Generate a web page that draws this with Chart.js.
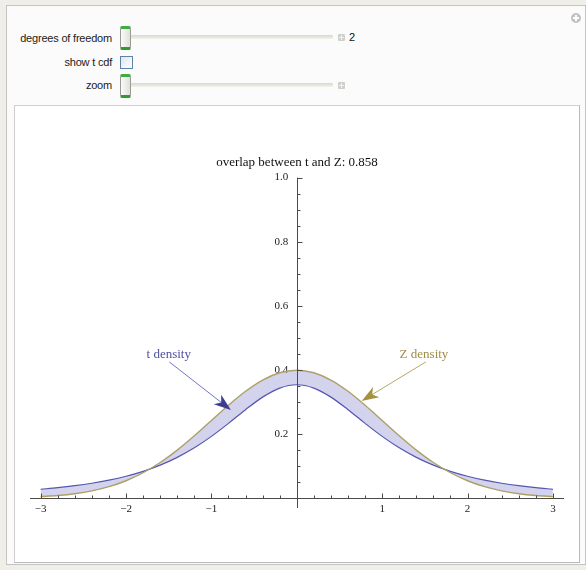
<!DOCTYPE html>
<html>
<head>
<meta charset="utf-8">
<script src="https://cdn.jsdelivr.net/npm/chart.js@4.4.0/dist/chart.umd.min.js"></script>
<style>
  html, body { margin: 0; padding: 0; }
  body {
    width: 586px; height: 570px; position: relative; overflow: hidden;
    background: #efeee9;
    font-family: "Liberation Sans", "DejaVu Sans", Arial, sans-serif;
  }
  #frame {
    position: absolute; left: 6px; top: 5px; width: 580px; height: 560px;
    box-sizing: border-box; border: 1px solid #c4c4c4; background: #fbfbfb;
  }
  #panel {
    position: absolute; left: 14px; top: 105px; width: 566px; height: 458px;
    box-sizing: border-box; background: #fff;
    border: 1px solid #cfcfcf; border-right-color: #b9b9b9; border-bottom-color: #b9b9b9;
  }
  .lbl {
    position: absolute; right: 474px; font-size: 11px; color: #222;
    white-space: nowrap; letter-spacing: -0.2px; line-height: 12px;
  }
  .track {
    position: absolute; left: 131px; width: 202px; height: 4px;
    background: linear-gradient(#d9d7ce, #f3f2ec); border-radius: 1px;
  }
  .thumb {
    position: absolute; left: 120px; width: 11px; height: 24px; box-sizing: border-box;
    border: 1px solid #9a9a96; border-top: 3px solid #3fae3f; border-bottom: 3px solid #2f9a2f;
    border-radius: 2px; background: linear-gradient(to right, #fbfbf9, #e0e0da);
  }
  .plus {
    position: absolute; left: 338px; width: 7px; height: 7px; background: #cfcfcb;
    border-radius: 1px;
  }
  .plus::before, .plus::after { content: ""; position: absolute; background: #f2f2f0; }
  .plus::before { left: 3px; top: 1px; width: 1px; height: 5px; }
  .plus::after { left: 1px; top: 3px; width: 5px; height: 1px; }
  #dfValue { position: absolute; left: 349px; top: 31px; font-size: 11px; color: #111; }
  #check {
    position: absolute; left: 120px; top: 56px; width: 13px; height: 13px; box-sizing: border-box;
    border: 1px solid #5f83a8; background: linear-gradient(135deg, #dfe6ee, #ffffff);
  }
  #corner {
    position: absolute; left: 571px; top: 13px; width: 10px; height: 10px; border-radius: 50%;
    background: #c2c2c2;
  }
  #corner::before, #corner::after { content: ""; position: absolute; background: #fff; }
  #corner::before { left: 4px; top: 2px; width: 2px; height: 6px; }
  #corner::after { left: 2px; top: 4px; width: 6px; height: 2px; }
  #chart { position: absolute; left: 0; top: 0; z-index: 2; pointer-events: none; }
</style>
</head>
<body>
<div id="frame"></div>
<div id="corner"></div>

<div class="lbl" style="top:32px">degrees of freedom</div>
<div class="track" style="top:35px"></div>
<div class="thumb" style="top:26px"></div>
<div class="plus" style="top:34px"></div>
<div id="dfValue">2</div>

<div class="lbl" style="top:56px">show t cdf</div>
<div id="check"></div>

<div class="lbl" style="top:79px">zoom</div>
<div class="track" style="top:83px"></div>
<div class="thumb" style="top:74px"></div>
<div class="plus" style="top:82px"></div>

<div id="panel"></div>
<canvas id="chart" width="586" height="570"></canvas>

<script>
const xValues = [-3.0, -2.8, -2.6, -2.4, -2.2, -2.0, -1.8, -1.6, -1.4, -1.2, -1.0, -0.8, -0.6, -0.4, -0.2, 0.0,
  0.2, 0.4, 0.6, 0.8, 1.0, 1.2, 1.4, 1.6, 1.8, 2.0, 2.2, 2.4, 2.6, 2.8, 3.0];

// Student t density, 2 degrees of freedom
const tDensity = [0.0274, 0.0324, 0.0386, 0.0463, 0.0559, 0.0680, 0.0834, 0.1027, 0.1269, 0.1567, 0.1925,
  0.2331, 0.2758, 0.3150, 0.3432, 0.3536, 0.3432, 0.3150, 0.2758, 0.2331, 0.1925, 0.1567, 0.1269, 0.1027,
  0.0834, 0.0680, 0.0559, 0.0463, 0.0386, 0.0324, 0.0274];

// standard normal density
const zDensity = [0.0044, 0.0079, 0.0136, 0.0224, 0.0355, 0.0540, 0.0790, 0.1109, 0.1497, 0.1942, 0.2420,
  0.2897, 0.3332, 0.3683, 0.3910, 0.3989, 0.3910, 0.3683, 0.3332, 0.2897, 0.2420, 0.1942, 0.1497, 0.1109,
  0.0790, 0.0540, 0.0355, 0.0224, 0.0136, 0.0079, 0.0044];

const xTickLabels = [-3, -2, -1, 1, 2, 3];
const yTickLabels = [0.2, 0.4, 0.6, 0.8, 1.0];
const overlapValue = "0.858";

const annotationLabels = ["t density", "Z density"];
const labelAt = [[-1.50, 0.449], [1.49, 0.449]];
const arrowFrom = [[-1.494, 0.425], [1.513, 0.425]];
const arrowTo = [[-0.772, 0.275], [0.760, 0.303]];

const serif = '"Liberation Serif", "DejaVu Serif", "Times New Roman", serif';
const colors = {
  tLine: "#5656b0",
  zLine: "#ada067",
  band: "rgba(168, 168, 222, 0.5)",
  axis: "#4a4a4a",
  labelText: ["#5050a2", "#a08d45"],
  arrowLine: ["#7474c6", "#b6a867"],
  arrowHead: ["#3c3c94", "#a4923e"],
};

function isOneOf(list, v) {
  return list.some((t) => Math.abs(t - v) < 1e-6);
}

const axesPlugin = {
  id: "centeredAxes",
  afterDatasetsDraw(chart) {
    const { ctx, chartArea, scales } = chart;
    const xs = scales.x;
    const ys = scales.y;
    const x0 = Math.round(xs.getPixelForValue(0)) + 0.5;
    const y0 = Math.round(ys.getPixelForValue(0)) + 0.5;

    ctx.save();
    ctx.strokeStyle = colors.axis;
    ctx.lineWidth = 1;
    ctx.beginPath();
    ctx.moveTo(chartArea.left, y0);
    ctx.lineTo(chartArea.right, y0);
    ctx.moveTo(x0, chartArea.top);
    ctx.lineTo(x0, chartArea.bottom);

    xs.ticks.forEach((tick) => {
      if (Math.abs(tick.value) < 1e-9) return;
      const px = Math.round(xs.getPixelForValue(tick.value)) + 0.5;
      const len = isOneOf(xTickLabels, tick.value) ? 5 : 3;
      ctx.moveTo(px, y0);
      ctx.lineTo(px, y0 - len);
    });
    ys.ticks.forEach((tick) => {
      if (Math.abs(tick.value) < 1e-9) return;
      const py = Math.round(ys.getPixelForValue(tick.value)) + 0.5;
      const len = isOneOf(yTickLabels, tick.value) ? 5 : 3;
      ctx.moveTo(x0, py);
      ctx.lineTo(x0 + len, py);
    });
    ctx.stroke();

    // arrows and their labels
    annotationLabels.forEach((text, i) => {
      const fx = xs.getPixelForValue(arrowFrom[i][0]);
      const fy = ys.getPixelForValue(arrowFrom[i][1]);
      const tx = xs.getPixelForValue(arrowTo[i][0]);
      const ty = ys.getPixelForValue(arrowTo[i][1]);
      const ang = Math.atan2(ty - fy, tx - fx);
      const headLen = 17;
      const headHalf = 6;

      ctx.strokeStyle = colors.arrowLine[i];
      ctx.lineWidth = 1;
      ctx.beginPath();
      ctx.moveTo(fx, fy);
      ctx.lineTo(tx - Math.cos(ang) * headLen * 0.7, ty - Math.sin(ang) * headLen * 0.7);
      ctx.stroke();

      const bx = tx - Math.cos(ang) * headLen;
      const by = ty - Math.sin(ang) * headLen;
      const nx = -Math.sin(ang) * headHalf;
      const ny = Math.cos(ang) * headHalf;
      const mx = tx - Math.cos(ang) * headLen * 0.72;
      const my = ty - Math.sin(ang) * headLen * 0.72;
      ctx.fillStyle = colors.arrowHead[i];
      ctx.beginPath();
      ctx.moveTo(tx, ty);
      ctx.lineTo(bx + nx, by + ny);
      ctx.lineTo(mx, my);
      ctx.lineTo(bx - nx, by - ny);
      ctx.closePath();
      ctx.fill();

      ctx.fillStyle = colors.labelText[i];
      ctx.font = "13px " + serif;
      ctx.textAlign = "center";
      ctx.textBaseline = "middle";
      ctx.fillText(text, xs.getPixelForValue(labelAt[i][0]), ys.getPixelForValue(labelAt[i][1]));
    });
    ctx.restore();
  },
};

new Chart(document.getElementById("chart"), {
  type: "line",
  data: {
    datasets: [
      {
        label: "Z density",
        data: xValues.map((x, i) => ({ x, y: zDensity[i] })),
        borderColor: colors.zLine,
        borderWidth: 1.4,
        pointRadius: 0,
        cubicInterpolationMode: "monotone",
        fill: false,
      },
      {
        label: "t density",
        data: xValues.map((x, i) => ({ x, y: tDensity[i] })),
        borderColor: colors.tLine,
        backgroundColor: colors.band,
        borderWidth: 1.2,
        pointRadius: 0,
        cubicInterpolationMode: "monotone",
        fill: 0,
      },
    ],
  },
  options: {
    responsive: false,
    animation: false,
    events: [],
    layout: { padding: { left: 30, right: 22, top: 155, bottom: 62 } },
    plugins: {
      legend: { display: false },
      tooltip: { enabled: false },
      title: {
        display: true,
        text: "overlap between t and Z: " + overlapValue,
        color: "#111",
        font: { family: serif, size: 13, weight: "normal" },
        padding: { top: 0, bottom: 7 },
      },
    },
    scales: {
      x: {
        type: "linear",
        min: -3.125,
        max: 3.13,
        position: { y: 0 },
        grid: { display: false, drawTicks: false },
        border: { display: false },
        ticks: {
          stepSize: 0.2,
          autoSkip: false,
          includeBounds: false,
          maxRotation: 0,
          padding: 4,
          color: "#222",
          font: { family: serif, size: 11 },
          callback: (v) => (isOneOf(xTickLabels, v) ? (v < 0 ? "\u2212" + Math.abs(v) : String(v)) : ""),
        },
      },
      y: {
        type: "linear",
        min: -0.031,
        max: 1.0,
        // labels sit a little left of the drawn axis line at x = 0
        position: { x: -0.1 },
        grid: { display: false, drawTicks: false },
        border: { display: false },
        ticks: {
          stepSize: 0.05,
          autoSkip: false,
          includeBounds: false,
          padding: 8,
          color: "#222",
          font: { family: serif, size: 11 },
          callback: (v) => (isOneOf(yTickLabels, v) ? v.toFixed(1) : ""),
        },
      },
    },
  },
  plugins: [axesPlugin],
});
</script>
</body>
</html>
